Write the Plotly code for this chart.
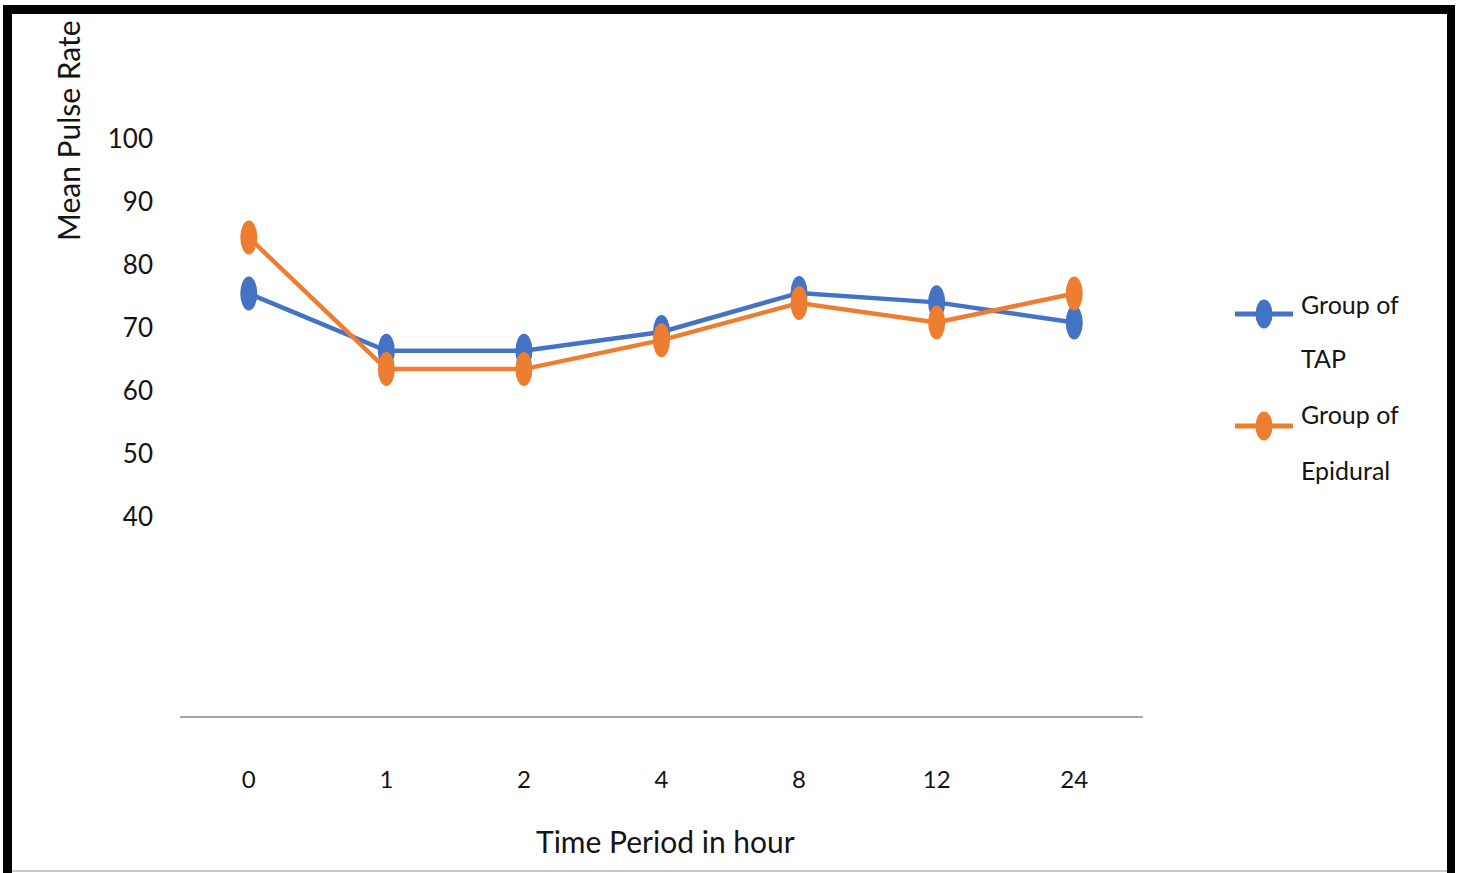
import plotly.graph_objects as go

# Mean pulse rate per time point (hours after surgery)
hours = ["0", "1", "2", "4", "8", "12", "24"]
tap = [75.4, 66.3, 66.3, 69.3, 75.5, 74.0, 70.8]
epidural = [84.3, 63.4, 63.4, 68.0, 73.9, 70.8, 75.4]
y_ticks = [40, 50, 60, 70, 80, 90, 100]
legend_lines = [["Group of", "TAP"], ["Group of", "Epidural"]]

BLUE = "#4472C4"
ORANGE = "#ED7D31"
TEXT = "#141414"
FONT = "Lato"

W, H = 1460, 873
L, R, T, B = 180, 317, 20, 157
PW, PH = W - L - R, H - T - B


def px(xp):
    """Page pixel x -> paper coordinate."""
    return (xp - L) / PW


def py(yp):
    """Page pixel y (from top) -> paper coordinate."""
    return (H - B - yp) / PH


xs = list(range(len(hours)))

fig = go.Figure()
fig.add_trace(go.Scatter(x=xs, y=tap, mode="lines", name="Group of TAP",
                         line=dict(color=BLUE, width=4.5), showlegend=False))
fig.add_trace(go.Scatter(x=xs, y=epidural, mode="lines", name="Group of Epidural",
                         line=dict(color=ORANGE, width=4.5), showlegend=False))

# Elliptical markers, sized in axis units around each value
MW, MH = 0.062, 2.7
for layer, vals, color in [("below", tap, BLUE), ("above", epidural, ORANGE)]:
    for x, v in zip(xs, vals):
        fig.add_shape(type="circle", xref="x", yref="y",
                      x0=x - MW, x1=x + MW, y0=v - MH, y1=v + MH,
                      fillcolor=color, line_width=0, layer=layer)

# Legend: line + ellipse symbol, two-line label with wide spacing
for (first, second), color, sy, ty1, ty2 in [
    (legend_lines[0], BLUE, 314, 304, 358),
    (legend_lines[1], ORANGE, 426, 414, 470),
]:
    fig.add_shape(type="line", xref="paper", yref="paper",
                  x0=px(1235), x1=px(1293), y0=py(sy), y1=py(sy),
                  line=dict(color=color, width=5))
    fig.add_shape(type="circle", xref="paper", yref="paper",
                  x0=px(1255.5), x1=px(1272.5), y0=py(sy + 14.5), y1=py(sy - 14.5),
                  fillcolor=color, line_width=0)
    for txt, ty in [(first, ty1), (second, ty2)]:
        fig.add_annotation(text=txt, xref="paper", yref="paper",
                           x=px(1299), y=py(ty), xanchor="left", yanchor="middle",
                           showarrow=False, font=dict(family=FONT, size=25, color=TEXT))

# Axis titles
fig.add_annotation(text="Mean Pulse Rate", xref="paper", yref="paper",
                   x=px(68), y=py(131), textangle=-90, showarrow=False,
                   xanchor="center", yanchor="middle",
                   font=dict(family=FONT, size=30, color=TEXT))
fig.add_annotation(text="Time Period in hour", xref="paper", yref="paper",
                   x=px(665), y=py(841), showarrow=False,
                   xanchor="center", yanchor="middle",
                   font=dict(family=FONT, size=30, color=TEXT))

# Frame around the figure
frame = [
    (3, 1455, 5, 14),      # top band
    (3, 12, 5, 873),       # left band
    (1447, 1455, 5, 873),  # right band
]
for x0, x1, y0, y1 in frame:
    fig.add_shape(type="rect", xref="paper", yref="paper",
                  x0=px(x0), x1=px(x1), y0=py(y1), y1=py(y0),
                  fillcolor="black", line_width=0, layer="above")
fig.add_shape(type="line", xref="paper", yref="paper",
              x0=px(12), x1=px(1447), y0=py(871), y1=py(871),
              line=dict(color="#c8c8c8", width=2))

fig.update_layout(
    width=W, height=H,
    margin=dict(l=L, r=R, t=T, b=B),
    paper_bgcolor="white", plot_bgcolor="white",
    showlegend=False,
    font=dict(family=FONT, color=TEXT),
    xaxis=dict(range=[-0.5, 6.5], tickmode="array", tickvals=xs, ticktext=hours,
               showline=True, linecolor="#a6a6a6", linewidth=2,
               showgrid=False, zeroline=False, ticks="",
               tickfont=dict(family=FONT, size=24, color=TEXT),
               ticklabelstandoff=41),
    yaxis=dict(range=[8.3, 118.85], tickmode="array", tickvals=y_ticks,
               showline=False, showgrid=False, zeroline=False, ticks="",
               tickfont=dict(family=FONT, size=26, color=TEXT),
               ticklabelstandoff=26),
)

fig.write_html("out.html")
